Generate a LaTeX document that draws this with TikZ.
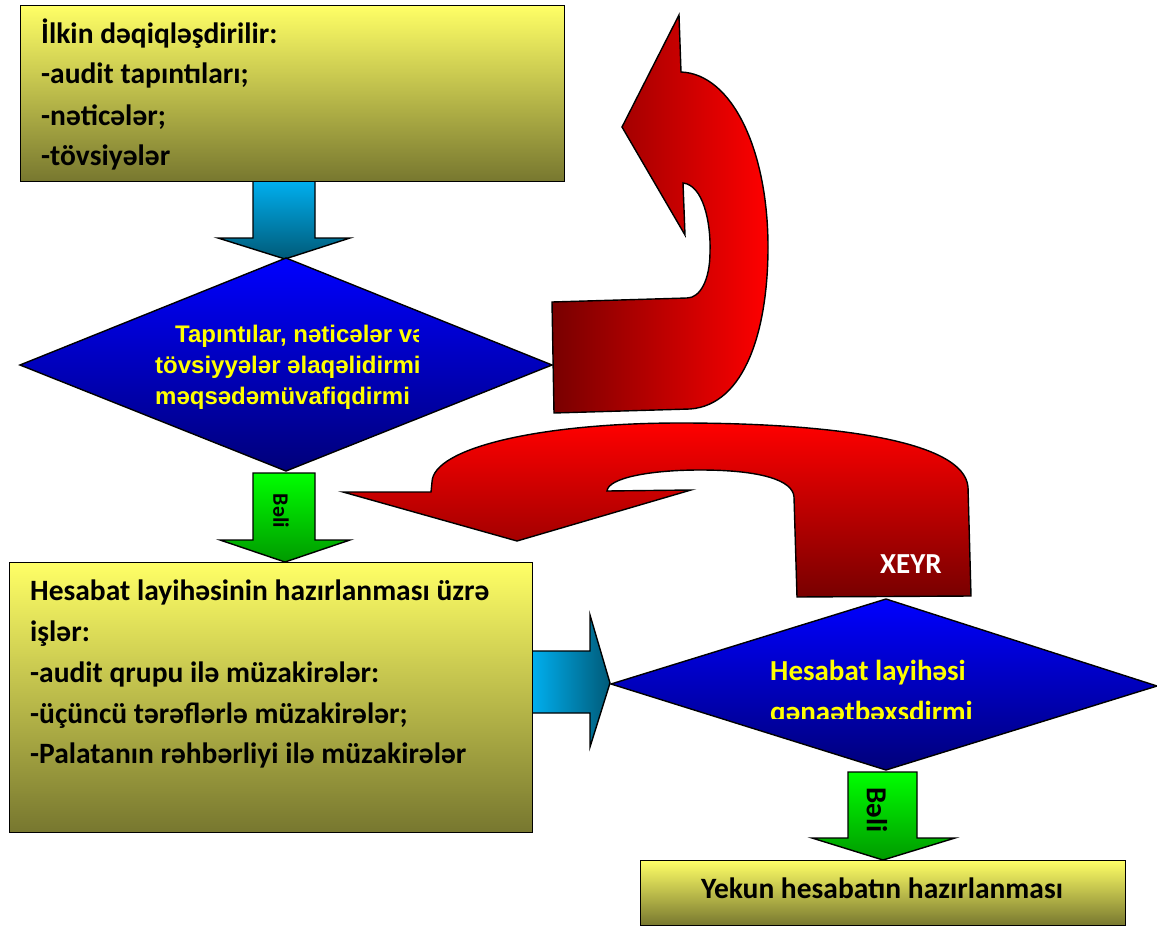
\documentclass[tikz,border=0pt]{standalone}
\usepackage{fontspec}
\setmainfont{Carlito}
\newfontfamily\arialfont{Liberation Sans}
\definecolor{boxtop}{HTML}{FFFF66}
\definecolor{boxbot}{HTML}{77772F}
\definecolor{dtop}{HTML}{0000FF}
\definecolor{dbot}{HTML}{00007A}
\definecolor{gtop}{HTML}{00FF00}
\definecolor{gbot}{HTML}{009A00}
\definecolor{ctop}{HTML}{00B0F0}
\definecolor{cbot}{HTML}{005A78}
\definecolor{rlight}{HTML}{FF0000}
\definecolor{rdark}{HTML}{780000}
\definecolor{ytext}{HTML}{FFFF00}
\begin{document}
\begin{tikzpicture}[x=1pt,y=-1pt,
  outline/.style={draw=black,line width=1.4pt,line join=miter},
  ybox/.style={outline,top color=boxtop,bottom color=boxbot,inner sep=0pt,anchor=north west},
  decision/.style={outline,top color=dtop,bottom color=dbot},
  garrow/.style={outline,top color=gtop,bottom color=gbot},
  carrowv/.style={outline,top color=ctop,bottom color=cbot},
  carrowh/.style={outline,left color=ctop,right color=cbot},
  rarrowh/.style={outline,left color=rdark,right color=rlight},
  rarrowv/.style={outline,top color=rlight,bottom color=rdark},
  btxt/.style={font=\fontsize{29.5}{34}\selectfont\bfseries,anchor=base west,inner sep=0pt},
  dtxt/.style={font=\arialfont\fontsize{24}{28}\selectfont\bfseries,text=ytext,anchor=base west,inner sep=0pt},
  htxt/.style={font=\fontsize{29}{34}\selectfont\bfseries,text=ytext,anchor=base west,inner sep=0pt},
  vtxt/.style={font=\fontsize{29}{34}\selectfont\bfseries,rotate=-90,inner sep=0pt}]
\useasboundingbox (0,0) rectangle (1157,926);

% arrows (drawn first)
\draw[carrowv] (253,180) -- (253,238) -- (218,238) -- (285,259) -- (350,238) -- (315,238) -- (315,180) -- cycle;
\draw[garrow] (253,473) -- (253,540) -- (220,540) -- (285,562) -- (350,540) -- (315,540) -- (315,473) -- cycle;
\draw[carrowh] (531,651) -- (590,651) -- (590,615) -- (610,683) -- (590,747) -- (590,713) -- (531,713) -- cycle;
\draw[garrow] (848,772) -- (848,838) -- (812,838) -- (883,860) -- (955,838) -- (917,838) -- (917,772) -- cycle;

% red U-turn arrow (top right)
\draw[rarrowh] (552,302) -- (554,413) -- (690,409)
  .. controls (745,405) and (768,330) .. (768,247)
  .. controls (768,150) and (732,74) .. (681,72)
  -- (679,15) -- (622,127) -- (685,235) -- (683,183)
  .. controls (703,185) and (711,222) .. (710,252)
  .. controls (710,280) and (700,298) .. (687,298) -- cycle;

% red turning arrow (middle)
\draw[rarrowv] (797,597) -- (971,596) -- (968,487)
  .. controls (964,440) and (830,423) .. (680,423)
  .. controls (540,423) and (433,448) .. (432,482)
  -- (431,492) -- (343,492) -- (517,541) -- (691,490) -- (607,491)
  .. controls (608,478) and (650,470) .. (700,470)
  .. controls (760,470) and (793,480) .. (794,497) -- cycle;
\node[font=\fontsize{29}{34}\selectfont\bfseries,text=white,anchor=base west,inner sep=0pt] (xeyr) at (880,573) {XEYR};

% boxes
\node[ybox,minimum width=544pt,minimum height=176pt] (box1) at (20,5) {};
\node[ybox,minimum width=523pt,minimum height=270pt] (box2) at (9,562) {};
\node[ybox,minimum width=485pt,minimum height=65pt] (box3) at (640,860) {};

% diamonds
\draw[decision] (20,365) -- (286,258) -- (552,365) -- (286,471) -- cycle;
\coordinate (d1) at (286,365);
\draw[decision] (611,684) -- (886,599) -- (1157,686) -- (886,770) -- cycle;
\coordinate (d2) at (886,684);

% box texts
\node[btxt] (b1l1) at (41,43) {İlkin dəqiqləşdirilir:};
\node[btxt] (b1l2) at (41,83) {-audit tapıntıları;};
\node[btxt] (b1l3) at (41,125) {-nəticələr;};
\node[btxt] (b1l4) at (41,165) {-tövsiyələr};

\node[btxt] (b2l1) at (30,600) {Hesabat layihəsinin hazırlanması üzrə};
\node[btxt] (b2l2) at (30,641) {işlər:};
\node[btxt] (b2l3) at (30,682) {-audit qrupu ilə müzakirələr:};
\node[btxt] (b2l4) at (30,723) {-üçüncü tərəflərlə müzakirələr;};
\node[btxt] (b2l5) at (30,763) {-Palatanın rəhbərliyi ilə müzakirələr};

\node[btxt,anchor=base] (b3l1) at (882,898) {Yekun hesabatın hazırlanması};

% diamond 1 text (clipped)
\begin{scope}
\clip (140,315) rectangle (418,408);
\node[dtxt] (d1l1) at (175,342) {Tapıntılar, nəticələr və};
\node[dtxt] (d1l2) at (155,373) {tövsiyyələr əlaqəlidirmi};
\node[dtxt] (d1l3) at (155,404) {məqsədəmüvafiqdirmi};
\end{scope}

% diamond 2 text (clipped)
\begin{scope}
\clip (740,640) rectangle (1000,718);
\node[htxt] (d2l1) at (770,680) {Hesabat layihəsi};
\node[htxt] (d2l2) at (770,721) {qənaətbəxşdirmi};
\end{scope}

% "Bəli" labels
\begin{scope}
\clip (262,478) rectangle (289,540);
\node[vtxt,font=\fontsize{22}{26}\selectfont\bfseries] (beli1) at (281,511) {Bəli};
\end{scope}
\node[vtxt] (beli2) at (877,810) {Bəli};
\end{tikzpicture}
\end{document}
